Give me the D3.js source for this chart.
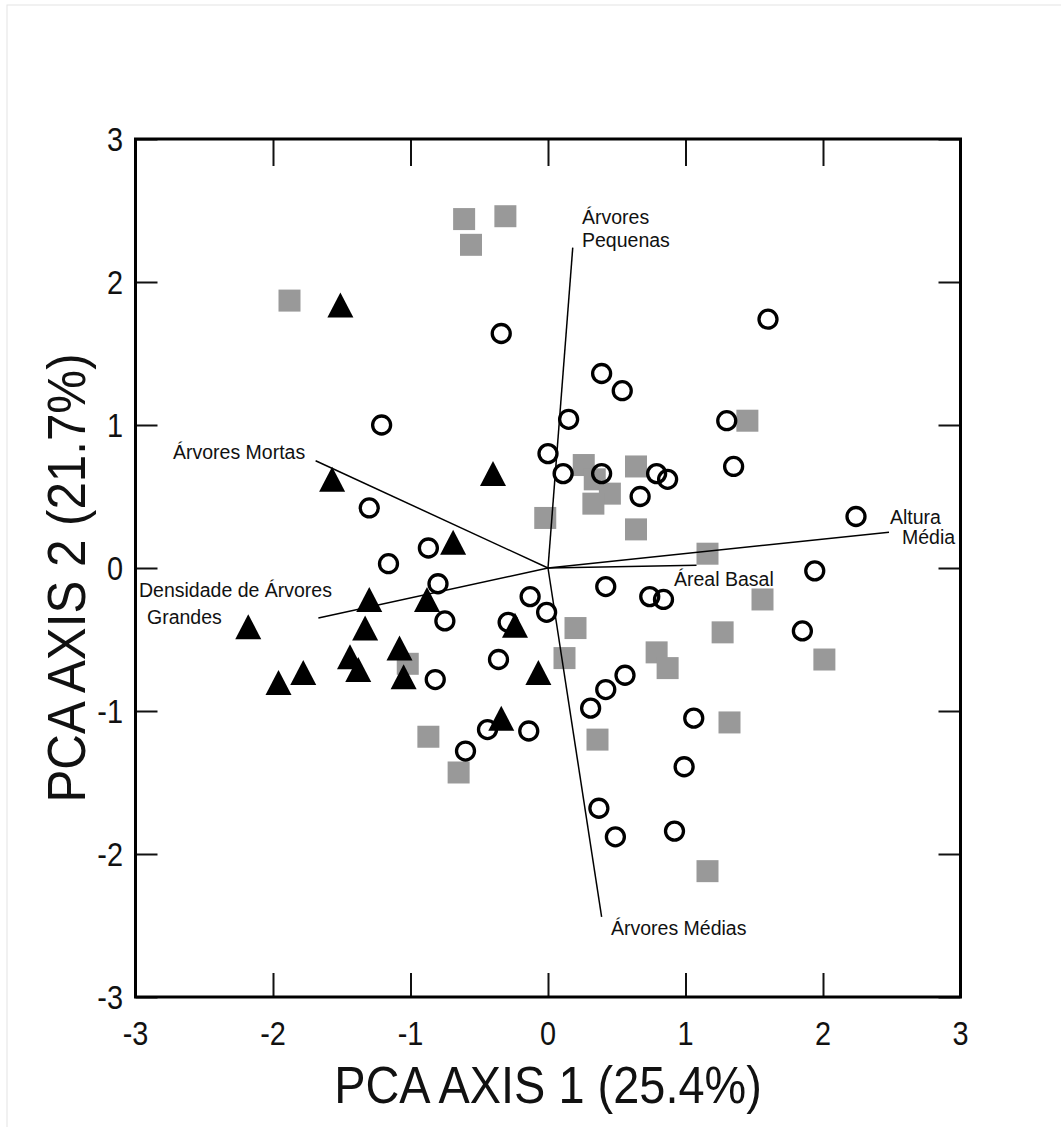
<!DOCTYPE html>
<html lang="en">
<head>
    <meta charset="UTF-8">
    <title>PCA biplot</title>
    <script src="https://d3js.org/d3.v7.min.js"></script>
    <style>
        body { margin: 0; background: white; }
        svg { display: block; }
        .vec-label { font-family: "Liberation Sans", Arial, sans-serif; font-size: 19.5px; fill: #111; }
        .tick-label, .axis-title { font-family: "Liberation Sans", Arial, sans-serif; fill: #111; }
    </style>
</head>
<body>
    <div id="chart"></div>
    <script>
        const width = 1061, height = 1127;

        // tick values for both axes
        const ticks = [-3, -2, -1, 0, 1, 2, 3];

        // group 1: grey squares
        const squaresX = [-0.61, -0.31, -0.56, -1.88, 1.45, 0.26, 0.34, 0.45, 0.33, 0.64, 0.64, -0.02, 1.16,
            0.20, 0.12, 0.79, 0.87, 1.27, 1.56, 2.01, 1.32, 0.36, 1.16, -1.02, -0.87, -0.65];
        const squaresY = [2.44, 2.46, 2.26, 1.87, 1.03, 0.72, 0.62, 0.52, 0.45, 0.71, 0.27, 0.35, 0.10,
            -0.42, -0.63, -0.59, -0.70, -0.45, -0.22, -0.64, -1.08, -1.20, -2.12, -0.67, -1.18, -1.43];

        // group 2: open circles
        const circlesX = [-0.34, -1.21, -1.30, -0.87, -1.16, -0.80, -0.75, -0.82, -0.13, -0.01, -0.29, -0.36, -0.44,
            -0.14, -0.60, 1.60, 0.39, 0.54, 0.15, 1.30, 0.00, 0.11, 0.39, 0.79, 0.87, 1.35, 0.67, 2.24, 1.94,
            0.42, 0.74, 0.84, 1.85, 0.56, 0.42, 0.31, 1.06, 0.99, 0.37, 0.49, 0.92];
        const circlesY = [1.64, 1.00, 0.42, 0.14, 0.03, -0.11, -0.37, -0.78, -0.20, -0.31, -0.38, -0.64, -1.13,
            -1.14, -1.28, 1.74, 1.36, 1.24, 1.04, 1.03, 0.80, 0.66, 0.66, 0.66, 0.62, 0.71, 0.50, 0.36, -0.02,
            -0.13, -0.20, -0.22, -0.44, -0.75, -0.85, -0.98, -1.05, -1.39, -1.68, -1.88, -1.84];

        // group 3: black triangles
        const trianglesX = [-1.51, -1.57, -0.40, -0.69, -1.30, -0.88, -2.18, -1.33, -1.08, -1.44, -1.38, -1.05,
            -1.78, -1.96, -0.24, -0.07, -0.34];
        const trianglesY = [1.84, 0.62, 0.66, 0.18, -0.22, -0.22, -0.41, -0.42, -0.56, -0.62, -0.71, -0.76,
            -0.73, -0.80, -0.40, -0.73, -1.05];

        // variable vectors
        const vecNames = ["Árvores Pequenas", "Árvores Mortas", "Densidade de Árvores Grandes", "Altura Média", "Áreal Basal", "Árvores Médias"];
        const vecX = [0.18, -1.69, -1.67, 2.48, 1.08, 0.39];
        const vecY = [2.24, 0.75, -0.35, 0.25, 0.02, -2.44];

        const svg = d3.select("#chart")
            .append("svg")
            .attr("width", width)
            .attr("height", height);

        // faint outer border of the original figure
        svg.append("rect")
            .attr("x", 7).attr("y", 5)
            .attr("width", width).attr("height", height)
            .attr("fill", "none")
            .attr("stroke", "#e4e4e4");

        const x = d3.scaleLinear().domain([-3, 3]).range([135.5, 960.5]);
        const y = d3.scaleLinear().domain([-3, 3]).range([997, 139]);

        // inward ticks on all four sides
        const axes = [
            { gen: d3.axisBottom(x).tickSize(-24), tr: `translate(0,${y(-3)})` },
            { gen: d3.axisTop(x).tickSize(-27), tr: `translate(0,${y(3)})` },
            { gen: d3.axisLeft(y).tickSize(-22), tr: `translate(${x(-3)},0)` },
            { gen: d3.axisRight(y).tickSize(-22), tr: `translate(${x(3)},0)` }
        ];
        axes.forEach(a => {
            const g = svg.append("g")
                .attr("transform", a.tr)
                .call(a.gen.tickValues(ticks).tickFormat(""));
            g.select(".domain").remove();
            g.selectAll("line").attr("stroke", "#111").attr("stroke-width", 2);
        });

        // tick labels
        svg.selectAll(".xlab")
            .data(ticks)
            .enter()
            .append("text")
            .attr("class", "tick-label")
            .attr("text-anchor", "middle")
            .attr("font-size", 34)
            .attr("transform", d => `translate(${x(d)},1045) scale(0.85,1)`)
            .text(d => d);

        svg.selectAll(".ylab")
            .data(ticks)
            .enter()
            .append("text")
            .attr("class", "tick-label")
            .attr("text-anchor", "end")
            .attr("font-size", 34)
            .attr("transform", d => `translate(123,${y(d) + 12}) scale(0.85,1)`)
            .text(d => d);

        // axis titles
        svg.append("text")
            .attr("class", "axis-title")
            .attr("text-anchor", "middle")
            .attr("font-size", 51)
            .attr("transform", `translate(${x(0)},1103) scale(0.92,1)`)
            .text("PCA AXIS 1 (25.4%)");

        svg.append("text")
            .attr("class", "axis-title")
            .attr("text-anchor", "middle")
            .attr("font-size", 53)
            .attr("transform", `translate(85,578) rotate(-90) scale(0.93,1)`)
            .text("PCA AXIS 2 (21.7%)");

        // squares
        const sq = 22;
        svg.selectAll(".sq")
            .data(squaresX.map((v, i) => [v, squaresY[i]]))
            .enter()
            .append("rect")
            .attr("x", d => x(d[0]) - sq / 2)
            .attr("y", d => y(d[1]) - sq / 2)
            .attr("width", sq)
            .attr("height", sq)
            .attr("fill", "#999999");

        // circles
        svg.selectAll(".circ")
            .data(circlesX.map((v, i) => [v, circlesY[i]]))
            .enter()
            .append("circle")
            .attr("cx", d => x(d[0]))
            .attr("cy", d => y(d[1]))
            .attr("r", 9)
            .attr("fill", "white")
            .attr("fill-opacity", 0)
            .attr("stroke", "black")
            .attr("stroke-width", 3.3);

        // triangles
        svg.selectAll(".tri")
            .data(trianglesX.map((v, i) => [v, trianglesY[i]]))
            .enter()
            .append("path")
            .attr("d", "M0,-12.5L13,12.5L-13,12.5Z")
            .attr("transform", d => `translate(${x(d[0])},${y(d[1])})`)
            .attr("fill", "black");

        // vectors from the origin
        svg.selectAll(".vec")
            .data(vecX.map((v, i) => [v, vecY[i]]))
            .enter()
            .append("line")
            .attr("x1", x(0)).attr("y1", y(0))
            .attr("x2", d => x(d[0])).attr("y2", d => y(d[1]))
            .attr("stroke", "black")
            .attr("stroke-width", 1.5);

        // vector labels
        const labels = [
            { lines: ["Árvores", "Pequenas"], xs: [582, 582], ys: [224, 247] },
            { lines: ["Árvores Mortas"], xs: [173], ys: [459] },
            { lines: ["Densidade de Árvores", "Grandes"], xs: [139, 147], ys: [597, 624] },
            { lines: ["Altura", "Média"], xs: [890, 902], ys: [524, 544] },
            { lines: ["Áreal Basal"], xs: [674], ys: [586] },
            { lines: ["Árvores Médias"], xs: [611], ys: [935] }
        ];
        labels.forEach(l => {
            l.lines.forEach((t, i) => {
                svg.append("text")
                    .attr("class", "vec-label")
                    .attr("x", l.xs[i])
                    .attr("y", l.ys[i])
                    .text(t);
            });
        });

        // plot frame
        svg.append("rect")
            .attr("x", x(-3)).attr("y", y(3))
            .attr("width", x(3) - x(-3))
            .attr("height", y(-3) - y(3))
            .attr("fill", "none")
            .attr("stroke", "black")
            .attr("stroke-width", 3);
    </script>
</body>
</html>
